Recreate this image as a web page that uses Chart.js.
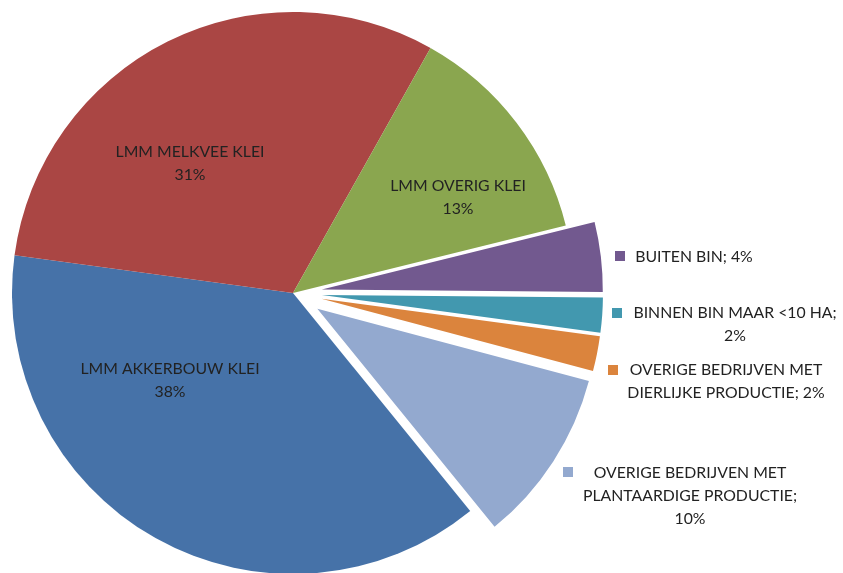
<!DOCTYPE html>
<html><head><meta charset="utf-8">
<script src="https://cdn.jsdelivr.net/npm/chart.js@4.4.1/dist/chart.umd.min.js"></script>
<style>html,body{margin:0;padding:0;background:#fff;overflow:hidden}canvas{display:block}</style>
</head><body>
<canvas id="c" width="843" height="573"></canvas>
<script>
// ---- data ----
const categories = [
  'LMM AKKERBOUW KLEI',
  'LMM MELKVEE KLEI',
  'LMM OVERIG KLEI',
  'BUITEN BIN',
  'BINNEN BIN MAAR <10 HA',
  'OVERIGE BEDRIJVEN MET DIERLIJKE PRODUCTIE',
  'OVERIGE BEDRIJVEN MET PLANTAARDIGE PRODUCTIE'
];
const shares = [38, 31, 13, 4, 2, 2, 10];
const percentLabels = ['38%', '31%', '13%', '4%', '2%', '2%', '10%'];
const labelLines = [
  ['LMM AKKERBOUW KLEI', '38%'],
  ['LMM MELKVEE KLEI', '31%'],
  ['LMM OVERIG KLEI', '13%'],
  ['BUITEN BIN; 4%'],
  ['BINNEN BIN MAAR <10 HA;', '2%'],
  ['OVERIGE BEDRIJVEN MET', 'DIERLIJKE PRODUCTIE; 2%'],
  ['OVERIGE BEDRIJVEN MET', 'PLANTAARDIGE PRODUCTIE;', '10%']
];
const exploded = [false, false, false, true, true, true, true];

// ---- styles ----
const colors = ['#4672A8', '#AA4644', '#8AA64F', '#72598F', '#4298AF', '#DB843D', '#93A9CF'];
const FONT = '15.8px Lato, "Open Sans", sans-serif';
const TEXT_COLOR = '#222222';
const EXPLODE = 29;
const LINE_H = 23;
// inside label anchors (offset from pie centre, px)
const insidePos = { 0: [-123, 87], 1: [-103, -130], 2: [165, -96] };
// outside labels: key centre, text centre x, first line y (offset from pie centre, px)
const outsidePos = {
  3: { key: [327, -37], tx: 401, ty: -36 },
  4: { key: [324, 20], tx: 442, ty: 20 },
  5: { key: [320, 77], tx: 433, ty: 77 },
  6: { key: [275, 179], tx: 397, ty: 180 }
};

const explodePlugin = {
  id: 'explode',
  beforeDatasetDraw(chart, args) {
    const ctx = chart.ctx;
    args.meta.data.forEach((arc, i) => {
      const d = exploded[i] ? EXPLODE : 0;
      const mid = (arc.startAngle + arc.endAngle) / 2;
      ctx.save();
      ctx.translate(Math.cos(mid) * d, Math.sin(mid) * d);
      arc.draw(ctx);
      ctx.restore();
    });
    return false;
  }
};

const labelPlugin = {
  id: 'labels',
  afterDatasetsDraw(chart) {
    const ctx = chart.ctx;
    const meta = chart.getDatasetMeta(0);
    const cx = meta.data[0].x, cy = meta.data[0].y;
    ctx.save();
    ctx.font = FONT;
    ctx.fillStyle = TEXT_COLOR;
    ctx.textAlign = 'center';
    ctx.textBaseline = 'middle';
    Object.keys(insidePos).forEach(k => {
      const [dx, dy] = insidePos[k];
      const lines = labelLines[k];
      const y0 = cy + dy - (lines.length - 1) * LINE_H / 2;
      lines.forEach((t, j) => ctx.fillText(t, cx + dx, y0 + j * LINE_H));
    });
    Object.keys(outsidePos).forEach(k => {
      const p = outsidePos[k];
      ctx.fillStyle = colors[k];
      ctx.fillRect(cx + p.key[0] - 5, cy + p.key[1] - 5, 10, 10);
      ctx.fillStyle = TEXT_COLOR;
      labelLines[k].forEach((t, j) => ctx.fillText(t, cx + p.tx, cy + p.ty + j * LINE_H));
    });
    ctx.restore();
  }
};

new Chart(document.getElementById('c'), {
  type: 'pie',
  data: {
    labels: categories,
    datasets: [{
      data: shares,
      backgroundColor: colors,
      borderWidth: 0
    }]
  },
  options: {
    responsive: false,
    animation: false,
    events: [],
    rotation: 140.9,
    radius: 281,
    layout: { padding: { left: 0, top: 13, right: 257, bottom: 0 } },
    plugins: { legend: { display: false }, tooltip: { enabled: false } }
  },
  plugins: [explodePlugin, labelPlugin]
});
</script>
</body></html>
